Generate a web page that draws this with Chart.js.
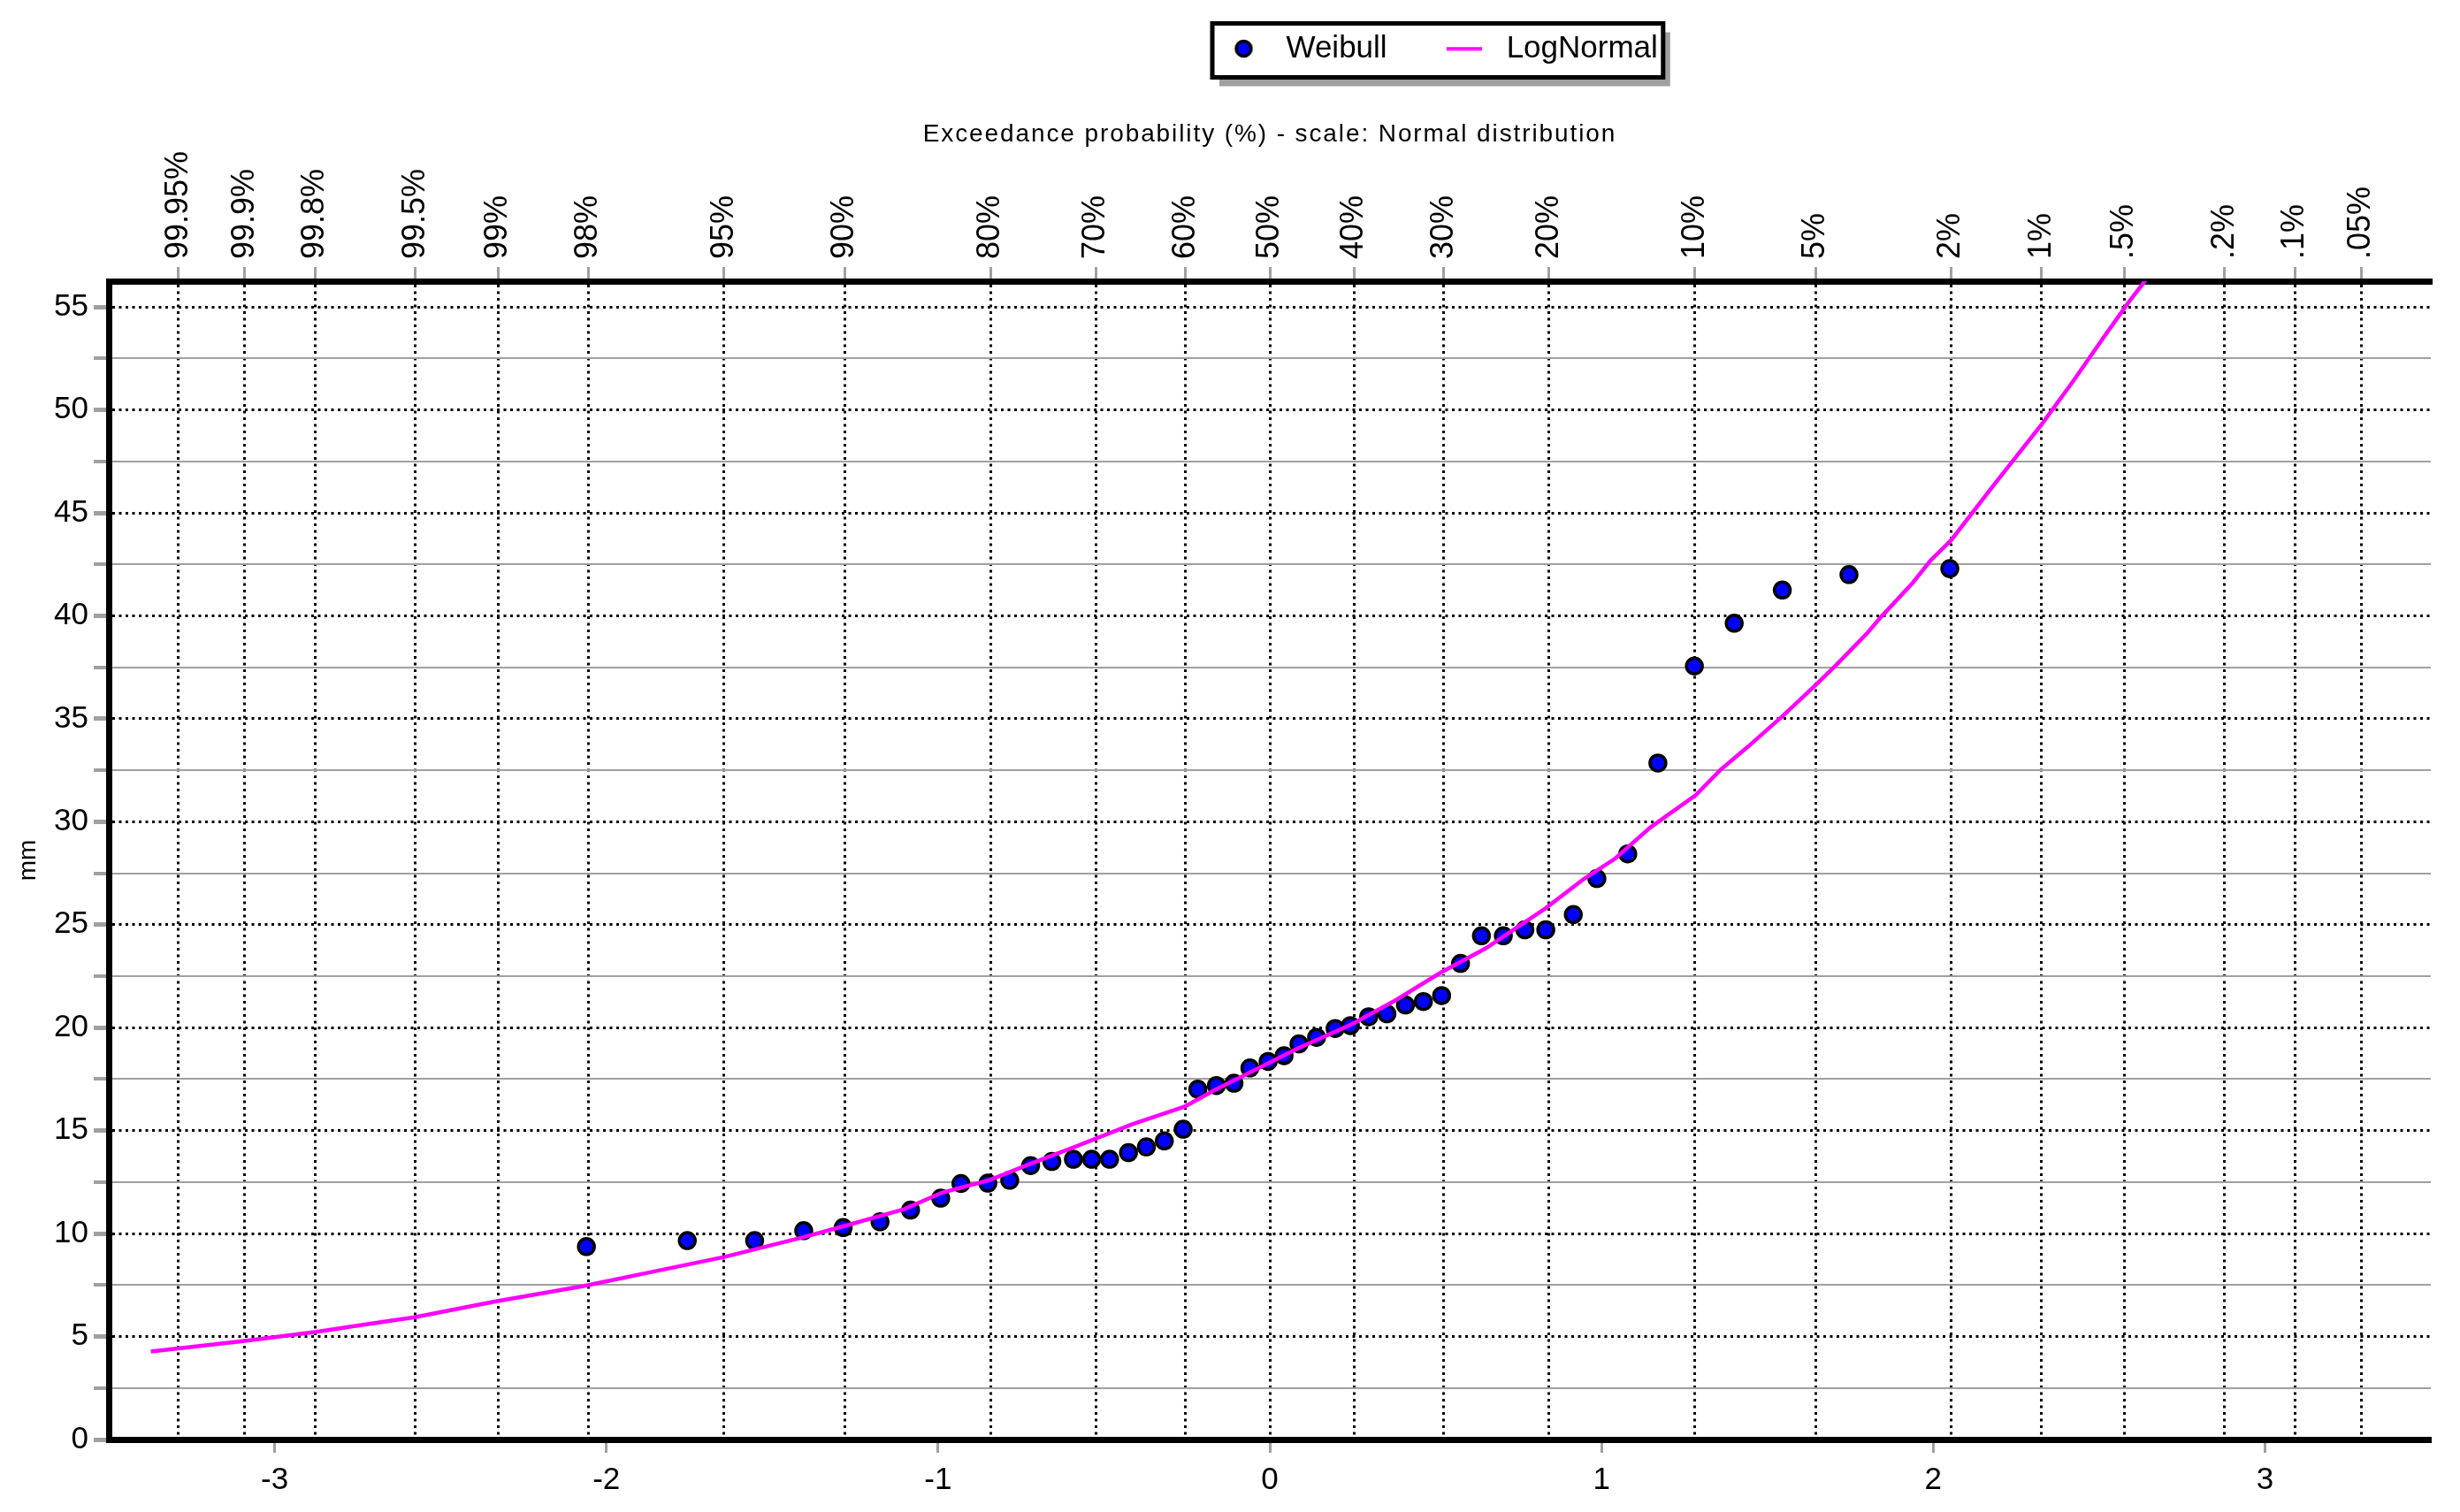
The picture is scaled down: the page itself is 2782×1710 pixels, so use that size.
<!DOCTYPE html>
<html>
<head>
<meta charset="utf-8">
<script src="https://cdn.jsdelivr.net/npm/chart.js@4/dist/chart.umd.min.js"></script>
<style>
  html, body { margin: 0; padding: 0; background: #ffffff; }
  #wrap { width: 2782px; height: 1710px; position: relative; }
</style>
</head>
<body>
<div id="wrap"><canvas id="c" width="2782" height="1710"></canvas></div>
<script>
// ---------------- data ----------------
const seriesNames = ['Weibull', 'LogNormal'];

// Weibull plotting positions: standard normal variate (x) and value in mm (y)
const weibullZ = [-2.060, -1.756, -1.553, -1.405, -1.286, -1.175, -1.083, -0.992,
  -0.931, -0.850, -0.784, -0.721, -0.657, -0.592, -0.537, -0.483, -0.426, -0.372,
  -0.318, -0.261, -0.217, -0.161, -0.108, -0.060, -0.005, 0.043, 0.088, 0.141,
  0.197, 0.243, 0.298, 0.353, 0.409, 0.463, 0.518, 0.575, 0.638, 0.704, 0.769,
  0.832, 0.915, 0.986, 1.079, 1.170, 1.280, 1.400, 1.545, 1.746, 2.050];
const weibullMM = [9.37, 9.66, 9.66, 10.14, 10.29, 10.57, 11.14, 11.72,
  12.43, 12.45, 12.59, 13.30, 13.50, 13.61, 13.61, 13.61, 13.93, 14.21,
  14.50, 15.07, 17.01, 17.19, 17.30, 18.04, 18.36, 18.64, 19.21, 19.53,
  19.96, 20.10, 20.53, 20.67, 21.10, 21.27, 21.56, 23.12, 24.46, 24.46, 24.75,
  24.75, 25.49, 27.24, 28.44, 32.85, 37.56, 39.64, 41.25, 42.00, 42.29];

// LogNormal fitted curve
const lognormalZ = [-3.373, -3.090, -2.879, -2.697, -2.578, -2.336, -2.066, -1.871,
  -1.645, -1.405, -1.282, -1.101, -0.988, -0.845, -0.721, -0.583, -0.414, -0.256,
  -0.167, 0.001, 0.080, 0.248, 0.377, 0.515, 0.651, 0.830, 0.946, 1.041, 1.147,
  1.284, 1.358, 1.442, 1.548, 1.643, 1.706, 1.801, 1.843, 1.938, 1.991, 2.054,
  2.185, 2.327, 2.422, 2.517, 2.588, 2.640];
const lognormalMM = [4.27, 4.79, 5.22, 5.66, 5.94, 6.70, 7.46, 8.11,
  8.86, 9.83, 10.37, 11.19, 11.99, 12.60, 13.39, 14.24, 15.31, 16.17,
  16.96, 18.31, 18.96, 20.17, 21.31, 22.67, 23.85, 25.78, 27.21, 28.21, 29.72,
  31.29, 32.51, 33.65, 35.16, 36.60, 37.59, 39.16, 39.95, 41.60, 42.67, 43.67,
  46.40, 49.30, 51.40, 53.60, 55.20, 56.30];

// axes
const bottomTickValues = [-3, -2, -1, 0, 1, 2, 3];
const probTickValues = [-3.2905, -3.0902, -2.8782, -2.5758, -2.3263, -2.0537, -1.6449,
  -1.2816, -0.8416, -0.5244, -0.2533, 0, 0.2533, 0.5244, 0.8416, 1.2816, 1.6449,
  2.0537, 2.3263, 2.5758, 2.8782, 3.0902, 3.2905];
const probTickLabels = ['99.95%', '99.9%', '99.8%', '99.5%', '99%', '98%', '95%',
  '90%', '80%', '70%', '60%', '50%', '40%', '30%', '20%', '10%', '5%',
  '2%', '1%', '.5%', '.2%', '.1%', '.05%'];
const yTickValues = [0, 2.5, 5, 7.5, 10, 12.5, 15, 17.5, 20, 22.5, 25, 27.5, 30,
  32.5, 35, 37.5, 40, 42.5, 45, 47.5, 50, 52.5, 55];
const yMajorTickLabels = ['0', '5', '10', '15', '20', '25', '30', '35', '40', '45', '50', '55'];
const xTopTitle = 'Exceedance probability (%) - scale: Normal distribution';
const yTitle = 'mm';

// ---------------- chart ----------------
const FONT = 'Arial, "Liberation Sans", Helvetica, sans-serif';
Chart.defaults.font.family = FONT;
Chart.defaults.color = '#000000';

let topScaleType = 'linear';
try {
  class SpacedTitleLinear extends Chart.LinearScale {
    drawTitle() {
      const ctx = this.ctx;
      ctx.save();
      if ('letterSpacing' in ctx) ctx.letterSpacing = '1.9px';
      super.drawTitle();
      ctx.restore();
    }
  }
  SpacedTitleLinear.id = 'linearSpaced';
  SpacedTitleLinear.defaults = Chart.LinearScale.defaults;
  Chart.register(SpacedTitleLinear);
  topScaleType = 'linearSpaced';
} catch (e) { topScaleType = 'linear'; }

function circleMarker() {
  const c = document.createElement('canvas');
  c.width = 26; c.height = 26;
  const g = c.getContext('2d');
  g.beginPath(); g.arc(13, 13, 8.5, 0, Math.PI * 2);
  g.fillStyle = '#0000ff'; g.fill();
  g.lineWidth = 3.5; g.strokeStyle = '#000000'; g.stroke();
  return c;
}
function lineMarker() {
  const c = document.createElement('canvas');
  c.width = 40; c.height = 5;
  const g = c.getContext('2d');
  g.fillStyle = '#ff00ff';
  g.fillRect(0, 0.5, 40, 4);
  return c;
}
const legendMarkers = [circleMarker(), lineMarker()];

const legendFrame = {
  id: 'legendFrame',
  afterLayout(chart) {
    const L = chart.legend;
    if (!L) return;
    const pad = L.options.labels.padding;
    const dx = 1376 - (L.left + pad);
    L.left += dx; L.right += dx;
    const dy = 37.5 - (L.top + pad);
    L.top += dy; L.bottom += dy;
  },
  beforeDraw(chart) {
    const L = chart.legend;
    const hb = L && L.legendHitBoxes;
    if (!hb || !hb.length) return;
    const last = hb[hb.length - 1];
    const x0 = hb[0].left - 5, x1 = last.left + last.width + 6;
    const y0 = hb[0].top - 11, y1 = hb[0].top + hb[0].height + 15;
    const ctx = chart.ctx;
    ctx.save();
    ctx.fillStyle = '#a0a0a0';
    ctx.fillRect(x0 + 8, y0 + 10, x1 - x0, y1 - y0);
    ctx.fillStyle = '#ffffff';
    ctx.fillRect(x0, y0, x1 - x0, y1 - y0);
    ctx.lineWidth = 5;
    ctx.strokeStyle = '#000000';
    ctx.strokeRect(x0, y0, x1 - x0, y1 - y0);
    ctx.restore();
  }
};

const isMajor = (c) => c && c.tick && Math.abs(c.tick.value % 5) < 1e-9;

new Chart(document.getElementById('c'), {
  type: 'scatter',
  data: {
    datasets: [
      {
        label: seriesNames[0],
        data: weibullZ.map((z, i) => ({ x: z, y: weibullMM[i] })),
        showLine: false,
        pointStyle: 'circle',
        pointRadius: 9,
        pointHoverRadius: 9,
        pointBorderWidth: 3.5,
        borderWidth: 3.5,
        backgroundColor: '#0000ff',
        borderColor: '#000000',
        order: 1,
        xAxisID: 'x', yAxisID: 'y'
      },
      {
        label: seriesNames[1],
        data: lognormalZ.map((z, i) => ({ x: z, y: lognormalMM[i] })),
        showLine: true,
        fill: false,
        tension: 0,
        pointRadius: 0,
        pointHoverRadius: 0,
        borderWidth: 4.5,
        borderColor: '#ff00ff',
        backgroundColor: '#ff00ff',
        order: 0,
        xAxisID: 'x', yAxisID: 'y'
      }
    ]
  },
  options: {
    responsive: false,
    animation: false,
    devicePixelRatio: 1,
    layout: { padding: { left: 0, right: 33, top: 0, bottom: 0 } },
    plugins: {
      tooltip: { enabled: false },
      legend: {
        display: true,
        position: 'top',
        align: 'start',
        labels: {
          font: { size: 35, family: FONT },
          color: '#000000',
          usePointStyle: true,
          pointStyleWidth: 61,
          boxWidth: 61,
          boxHeight: 35,
          padding: 56.5,
          sort: (a, b) => a.datasetIndex - b.datasetIndex,
          generateLabels: (chart) => {
            const items = Chart.defaults.plugins.legend.labels.generateLabels(chart);
            items.forEach(it => { it.pointStyle = legendMarkers[it.datasetIndex]; });
            return items;
          }
        }
      }
    },
    scales: {
      x: {
        type: 'linear',
        position: 'bottom',
        min: -3.5, max: 3.5,
        afterBuildTicks: (s) => { s.ticks = bottomTickValues.map(v => ({ value: v })); },
        afterFit: (s) => { s.height = 82; },
        ticks: {
          autoSkip: false, maxRotation: 0, minRotation: 0,
          padding: 10,
          font: { size: 35 },
          color: '#000000',
          callback: (v) => String(v)
        },
        grid: {
          drawOnChartArea: false, drawTicks: true,
          tickLength: 15, tickColor: '#a0a0a0', tickWidth: 3, tickBorderDash: []
        },
        border: { display: true, color: '#000000', width: 7 }
      },
      x2: {
        type: topScaleType,
        position: 'top',
        min: -3.5, max: 3.5,
        afterBuildTicks: (s) => { s.ticks = probTickValues.map(v => ({ value: v })); },
        afterFit: (s) => { s.height = 318 - (s.chart.legend ? s.chart.legend.height : 0); },
        ticks: {
          autoSkip: false, maxRotation: 90, minRotation: 90,
          mirror: true,
          padding: -25,
          font: { size: 36 },
          color: '#000000',
          callback: (v, i) => probTickLabels[i]
        },
        grid: {
          drawOnChartArea: true, drawTicks: true,
          color: '#000000', lineWidth: 3,
          tickLength: 16, tickColor: '#a0a0a0', tickWidth: 3, tickBorderDash: []
        },
        border: { display: true, color: '#000000', width: 7, dash: [3, 4.5] },
        title: {
          display: true, text: xTopTitle,
          font: { size: 28 }, color: '#000000',
          padding: { top: 34, bottom: 0 }
        }
      },
      y: {
        type: 'linear',
        position: 'left',
        min: 0, max: 56.25,
        afterBuildTicks: (s) => { s.ticks = yTickValues.map(v => ({ value: v })); },
        afterFit: (s) => { s.width = 123; },
        ticks: {
          autoSkip: false,
          padding: 6,
          font: { size: 35 },
          color: '#000000',
          callback: (v) => (Math.abs(v % 5) < 1e-9 ? yMajorTickLabels[Math.round(v / 5)] : '')
        },
        grid: {
          drawOnChartArea: true, drawTicks: true,
          color: (c) => isMajor(c) ? '#000000' : '#a0a0a0',
          lineWidth: (c) => isMajor(c) ? 3 : 2,
          tickLength: 17, tickColor: '#a0a0a0',
          tickWidth: (c) => isMajor(c) ? 5 : 4,
          tickBorderDash: []
        },
        border: {
          display: true, color: '#000000', width: 7,
          dash: (c) => isMajor(c) ? [3, 4.5] : []
        },
        title: {
          display: true, text: yTitle,
          font: { size: 28 }, color: '#000000',
          padding: { top: 15, bottom: 0 }
        }
      }
    }
  },
  plugins: [legendFrame]
});
</script>
</body>
</html>
